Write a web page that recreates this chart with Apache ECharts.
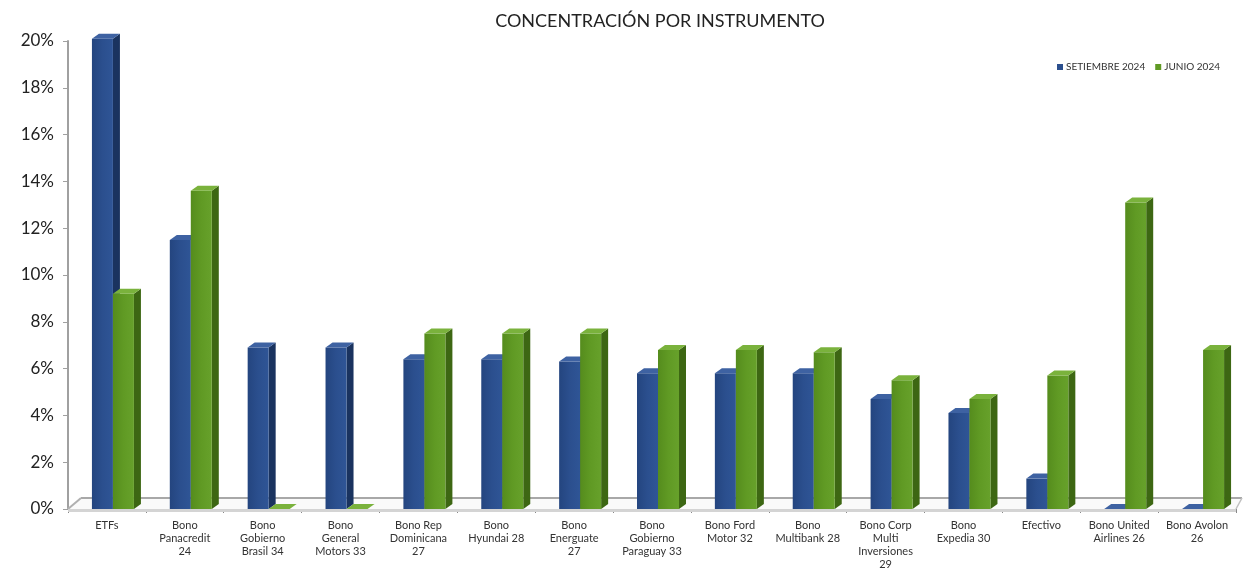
<!DOCTYPE html>
<html>
<head>
<meta charset="utf-8">
<script src="https://cdn.jsdelivr.net/npm/echarts@6/dist/echarts.min.js"></script>
<style>html,body{margin:0;padding:0;background:#fff;}#c{width:1245px;height:574px;}</style>
</head>
<body>
<div id="c"></div>
<script>
const categories = [
  "ETFs", "Bono\nPanacredit\n24", "Bono\nGobierno\nBrasil 34", "Bono\nGeneral\nMotors 33",
  "Bono Rep\nDominicana\n27", "Bono\nHyundai 28", "Bono\nEnerguate\n27", "Bono\nGobierno\nParaguay 33",
  "Bono Ford\nMotor 32", "Bono\nMultibank 28", "Bono Corp\nMulti\nInversiones\n29", "Bono\nExpedia 30",
  "Efectivo", "Bono United\nAirlines 26", "Bono Avolon\n26"
];
const septiembre2024 = [20.1, 11.5, 6.9, 6.9, 6.4, 6.4, 6.3, 5.8, 5.8, 5.8, 4.7, 4.1, 1.3, 0, 0];
const junio2024 = [9.2, 13.6, 0, 0, 7.5, 7.5, 7.5, 6.8, 6.8, 6.7, 5.5, 4.7, 5.7, 13.1, 6.8];
const yTicks = [0, 2, 4, 6, 8, 10, 12, 14, 16, 18, 20];

const chart = echarts.init(document.getElementById('c'));
const FONT = 'Lato';
const DX = 7, DY = 5, BW = 21, SHIFT = 6;

function bar3d(seriesIdx, colors) {
  return function (params, api) {
    const ci = api.value(0), v = api.value(1);
    const base = api.coord([ci, 0]);
    const top = api.coord([ci, v]);
    const c = base[0] + SHIFT;
    const x0 = seriesIdx === 0 ? c - BW : c;
    const x1 = x0 + BW;
    const yb = base[1], yt = top[1];
    return {
      type: 'group',
      children: [
        { type: 'polygon', shape: { points: [[x1, yt], [x1 + DX, yt - DY], [x1 + DX, yb - DY], [x1, yb]] },
          style: { fill: colors.side } },
        { type: 'rect', shape: { x: x0, y: yt, width: BW, height: yb - yt },
          style: { fill: new echarts.graphic.LinearGradient(0, 0, 1, 0, [
            { offset: 0, color: colors.frontL }, { offset: 0.5, color: colors.front }, { offset: 1, color: colors.frontR }]) } },
        { type: 'polygon', shape: { points: [[x0, yt], [x1, yt], [x1 + DX, yt - DY], [x0 + DX, yt - DY]] },
          style: { fill: colors.top } }
      ]
    };
  };
}

function floorRender(params, api) {
  const cs = params.coordSys;
  const y0 = api.coord([0, 0])[1];
  const left = cs.x, right = cs.x + cs.width;
  return {
    type: 'group',
    children: [
      { type: 'polygon', shape: { points: [[left, y0], [right, y0], [right + 6, y0 - 11], [left + 13, y0 - 11]] },
        style: { fill: '#fafafa', stroke: null } },
      { type: 'line', shape: { x1: left + 13, y1: y0 - 11, x2: right + 6, y2: y0 - 11 }, style: { stroke: '#a8a8a8', lineWidth: 2 } },
      { type: 'line', shape: { x1: left, y1: y0, x2: left + 13, y2: y0 - 11 }, style: { stroke: '#b0b0b0', lineWidth: 2 } },
      { type: 'line', shape: { x1: right, y1: y0, x2: right + 6, y2: y0 - 11 }, style: { stroke: '#c0c0c0', lineWidth: 1.5 } },
      { type: 'rect', shape: { x: left, y: y0, width: cs.width, height: 3 }, style: { fill: '#d4d4d4' } }
    ]
  };
}

const blueColors = { front: '#2b4f8e', frontL: '#24457f', frontR: '#2f5596', side: '#1a335f', top: '#3e62a2' };
const greenColors = { front: '#609a24', frontL: '#558c1d', frontR: '#67a12b', side: '#3d6713', top: '#7ab23c' };

chart.setOption({
  animation: false,
  backgroundColor: '#ffffff',
  title: {
    text: 'CONCENTRACIÓN POR INSTRUMENTO',
    left: 655, top: 7, textAlign: 'center',
    textStyle: { fontFamily: FONT, fontSize: 18, fontWeight: 'normal', color: '#222' }
  },
  legend: {
    right: 20, top: 57,
    itemWidth: 6, itemHeight: 6, itemGap: 10,
    textStyle: { fontFamily: FONT, fontSize: 10, color: '#333', padding: [0, 0, 0, -2] },
    data: [{ name: 'SETIEMBRE 2024', icon: 'rect' }, { name: 'JUNIO 2024', icon: 'rect' }]
  },
  grid: { left: 68, right: 9, top: 41, bottom: 65, containLabel: false },
  xAxis: {
    type: 'category',
    data: categories,
    boundaryGap: true,
    axisLine: { show: true, lineStyle: { color: '#b0b0b0', width: 2 } },
    axisTick: { show: true, alignWithLabel: false, length: 4, lineStyle: { color: '#888' } },
    axisLabel: { interval: 0, fontFamily: FONT, fontSize: 11, color: '#333', lineHeight: 13, margin: 10 },
    z: 0
  },
  yAxis: {
    type: 'value',
    min: 0, max: 20, interval: 2,
    axisLine: { show: true, lineStyle: { color: '#a0a0a0', width: 2 } },
    axisTick: { show: true, length: 5, lineStyle: { color: '#a0a0a0' } },
    splitLine: { show: false },
    axisLabel: {
      fontFamily: FONT, fontSize: 17, color: '#222', margin: 14,
      formatter: function (v) { return yTicks.indexOf(v) >= 0 ? v + '%' : ''; }
    }
  },
  series: [
    { name: 'floor', type: 'custom', renderItem: floorRender, data: [[0, 0]], silent: true, z: 1, clip: false },
    { name: 'SETIEMBRE 2024', type: 'custom', renderItem: bar3d(0, blueColors), itemStyle: { color: '#2b4f8e' },
      data: septiembre2024.map((v, i) => [i, v]), encode: { x: 0, y: 1 }, clip: false, z: 3 },
    { name: 'JUNIO 2024', type: 'custom', renderItem: bar3d(1, greenColors), itemStyle: { color: '#609a24' },
      data: junio2024.map((v, i) => [i, v]), encode: { x: 0, y: 1 }, clip: false, z: 3 }
  ]
});
</script>
</body>
</html>
